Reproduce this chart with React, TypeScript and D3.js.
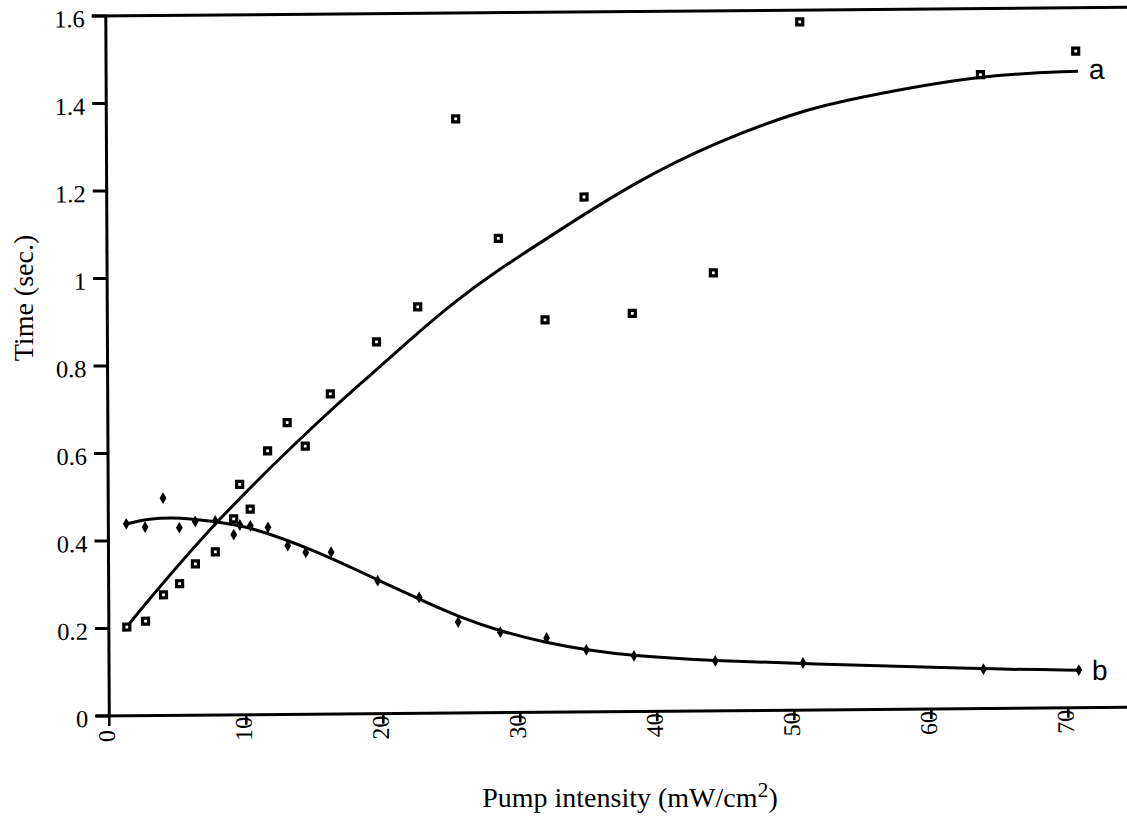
import React from 'react';
import * as d3 from 'd3';

// ---- data ----
const xTicks = [0, 10, 20, 30, 40, 50, 60, 70];
const xTickLabels = ['0', '10', '20', '30', '40', '50', '60', '70'];
const yTicks = [0, 0.2, 0.4, 0.6, 0.8, 1, 1.2, 1.4, 1.6];
const yTickLabels = ['0', '0.2', '0.4', '0.6', '0.8', '1', '1.2', '1.4', '1.6'];

const pumpIntensity = [1.31, 2.68, 4.0, 5.18, 6.34, 7.8, 9.15, 9.6, 10.36, 11.65, 13.09, 14.4, 16.25, 19.64, 22.66, 25.5, 28.57, 31.95, 34.84, 38.32, 44.25, 50.65, 63.82, 70.78];
const timeA = [0.203, 0.216, 0.276, 0.301, 0.346, 0.373, 0.448, 0.527, 0.47, 0.603, 0.667, 0.613, 0.732, 0.85, 0.929, 1.358, 1.084, 0.897, 1.177, 0.91, 1.001, 1.573, 1.449, 1.501];
const timeB = [0.439, 0.431, 0.497, 0.429, 0.443, 0.444, 0.412, 0.434, 0.432, 0.428, 0.386, 0.37, 0.37, 0.304, 0.265, 0.208, 0.184, 0.17, 0.142, 0.127, 0.114, 0.108, 0.09, 0.086];

const fitAX = [1.31, 7.81, 16.26, 18.83, 22.63, 25.57, 28.25, 33.15, 38.52, 44.38, 50.72, 54.38, 63.82, 70.94];
const fitAY = [0.204, 0.446, 0.696, 0.764, 0.87, 0.945, 1.006, 1.104, 1.209, 1.299, 1.37, 1.396, 1.449, 1.455];
const fitBX = [1.37, 2.83, 5.26, 7.81, 10.37, 14.98, 19.83, 23.47, 25.48, 28.57, 31.89, 34.83, 38.31, 44.22, 50.44, 63.82, 70.8];
const fitBY = [0.439, 0.45, 0.453, 0.442, 0.43, 0.376, 0.303, 0.249, 0.221, 0.186, 0.159, 0.142, 0.127, 0.114, 0.107, 0.09, 0.086];

const curveLabels = ['a', 'b'];
const xTitle = 'Pump intensity (mW/cm';
const yTitle = 'Time (sec.)';

export default function App() {
  const W = 1127;
  const H = 816;
  const X0 = 109.3;
  const Y0 = 716;
  const x = d3.scaleLinear().domain([0, 70]).range([X0, X0 + 959]);
  const y = d3.scaleLinear().domain([0, 1.6]).range([Y0, Y0 - 700]);
  const line = d3
    .line<[number, number]>()
    .x((d) => x(d[0]))
    .y((d) => y(d[1]))
    .curve(d3.curveBasis);

  const fitA: [number, number][] = fitAX.map((v, i) => [v, fitAY[i]]);
  const fitB: [number, number][] = fitBX.map((v, i) => [v, fitBY[i]]);
  const diamond = d3.symbol().type(d3.symbolDiamond).size(40)() as string;

  const tilt = `translate(${X0},${Y0}) matrix(1,-0.0085,0.005,1,0,0) translate(${-X0},${-Y0})`;
  const serif = "'Liberation Serif', 'Times New Roman', serif";
  const sans = "'Liberation Sans', Arial, sans-serif";

  const endA = fitA[fitA.length - 1];
  const endB = fitB[fitB.length - 1];

  return (
    <svg
      width={W}
      height={H}
      style={{ position: 'absolute', left: 0, top: 0, background: '#fff' }}
    >
      <rect x={0} y={0} width={W} height={H} fill="#fff" />
      <g transform={tilt}>
        {/* frame */}
        <line x1={X0 - 14} x2={W + 20} y1={y(1.6)} y2={y(1.6)} stroke="#000" strokeWidth={3} />
        <line x1={X0 - 14} x2={W + 20} y1={Y0} y2={Y0} stroke="#000" strokeWidth={3} />
        <line x1={X0} x2={X0} y1={y(1.6)} y2={Y0} stroke="#000" strokeWidth={3} />

        {/* y ticks */}
        {yTicks.map((t, i) => (
          <g key={'y' + i}>
            <line x1={X0 - 14} x2={X0} y1={y(t)} y2={y(t)} stroke="#000" strokeWidth={3} />
            <text
              x={X0 - 21}
              y={y(t) + 11}
              textAnchor="end"
              fontFamily={serif}
              fontSize={24.5}
              fill="#000"
            >
              {yTickLabels[i]}
            </text>
          </g>
        ))}

        {/* x ticks */}
        {xTicks.map((t, i) => (
          <g key={'x' + i}>
            <line x1={x(t)} x2={x(t)} y1={Y0} y2={Y0 + 10} stroke="#000" strokeWidth={2.5} />
            <text
              transform={`translate(${x(t) + 5.5},${Y0 + 26}) rotate(-90)`}
              textAnchor="start"
              fontFamily={serif}
              fontSize={24}
              fill="#000"
            >
              {xTickLabels[i]}
            </text>
          </g>
        ))}

        {/* fitted curves */}
        <path d={line(fitA) || ''} fill="none" stroke="#000" strokeWidth={3} />
        <path d={line(fitB) || ''} fill="none" stroke="#000" strokeWidth={3} />

        {/* series a: open squares */}
        {pumpIntensity.map((v, i) => (
          <rect
            key={'a' + i}
            x={x(v) - 3}
            y={y(timeA[i]) - 3}
            width={6}
            height={6}
            fill="#fff"
            stroke="#000"
            strokeWidth={3.2}
          />
        ))}

        {/* series b: filled diamonds */}
        {pumpIntensity.map((v, i) => (
          <path
            key={'b' + i}
            d={diamond}
            transform={`translate(${x(v)},${y(timeB[i])})`}
            fill="#000"
          />
        ))}

        {/* curve labels */}
        <text x={x(endA[0]) + 11} y={y(endA[1]) + 8} fontFamily={sans} fontSize={28} fill="#000">
          {curveLabels[0]}
        </text>
        <text x={x(endB[0]) + 13} y={y(endB[1]) + 10} fontFamily={sans} fontSize={28} fill="#000">
          {curveLabels[1]}
        </text>
      </g>

      {/* axis titles */}
      <text
        transform={`translate(33,298) rotate(-90)`}
        textAnchor="middle"
        fontFamily={serif}
        fontSize={28}
        fill="#000"
      >
        {yTitle}
      </text>
      <text x={630} y={807} textAnchor="middle" fontFamily={serif} fontSize={28} fill="#000">
        {xTitle}
        <tspan dy={-10} fontSize={22}>2</tspan>
        <tspan dy={10}>)</tspan>
      </text>
    </svg>
  );
}
